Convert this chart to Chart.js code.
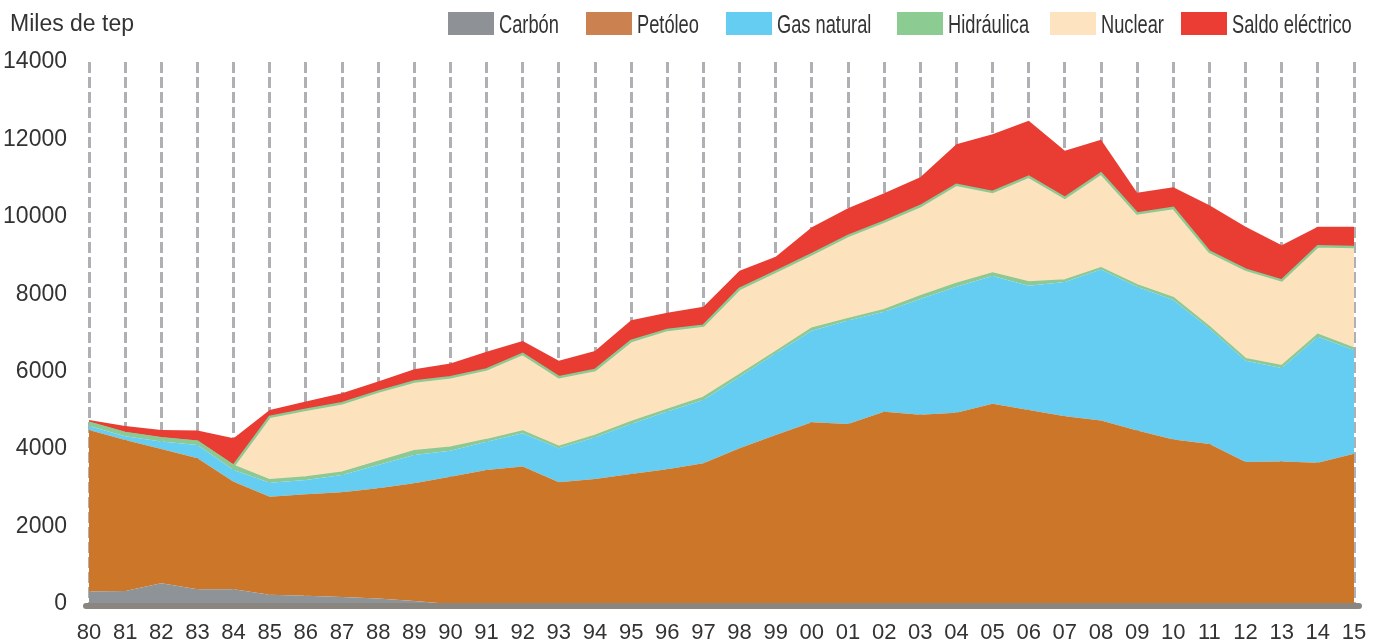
<!DOCTYPE html>
<html>
<head>
<meta charset="utf-8">
<script src="https://cdn.jsdelivr.net/npm/chart.js@4/dist/chart.umd.min.js"></script>
<style>
  body { margin: 0; background: #fff; }
  #wrap { position: relative; width: 1377px; height: 643px; }
  #unit { position: absolute; left: 10px; top: 12px; font: 23px/1 "Liberation Sans", Arial, sans-serif; color: #333; }
  .lg-box { position: absolute; top: 12px; width: 46px; height: 23px; }
  .lg-text { position: absolute; top: 12px; font: 25px/1 "Liberation Sans", Arial, sans-serif; color: #333;
             transform: scaleX(0.73); transform-origin: 0 0; white-space: nowrap; }
</style>
</head>
<body>
<div id="wrap">
  <div id="unit">Miles de tep</div>
  <div id="legend"></div>
  <canvas id="energyChart" width="1377" height="643"></canvas>
</div>
<script>
const years = ['80','81','82','83','84','85','86','87','88','89','90','91','92','93','94','95','96','97','98','99',
               '00','01','02','03','04','05','06','07','08','09','10','11','12','13','14','15'];

const carbon = [320, 335, 535, 380, 380, 240, 215, 180, 145, 80, 0, 0, 0, 0, 0, 0, 0, 0,
                0, 0, 0, 0, 0, 0, 0, 0, 0, 0, 0, 0, 0, 0, 0, 0, 0, 0];
const oil = [4175, 3900, 3470, 3385, 2780, 2530, 2620, 2705, 2845, 3040, 3290, 3460, 3550, 3145, 3230, 3360, 3480, 3635,
             4020, 4365, 4695, 4650, 4965, 4890, 4940, 5170, 5010, 4850, 4740, 4480, 4250, 4130, 3670, 3680, 3650, 3880];
const gas = [100, 100, 190, 345, 300, 360, 370, 445, 600, 730, 670, 730, 860, 880, 1075, 1290, 1490, 1635,
             1850, 2110, 2365, 2670, 2585, 2990, 3255, 3305, 3210, 3465, 3900, 3715, 3605, 2985, 2610, 2415, 3255, 2680];
const hydro = [85, 85, 85, 85, 110, 70, 70, 70, 85, 100, 85, 50, 50, 40, 40, 50, 50, 60,
               50, 40, 60, 40, 45, 70, 80, 70, 90, 50, 40, 40, 50, 40, 50, 50, 50, 40];
const nuclear = [0, 0, 0, 0, 0, 1635, 1740, 1785, 1810, 1795, 1810, 1820, 2000, 1795, 1700, 2095, 2060, 1860,
                 2220, 2070, 1920, 2150, 2280, 2330, 2555, 2100, 2730, 2125, 2440, 1855, 2325, 1945, 2305, 2215, 2285, 2620];
const saldo = [70, 180, 215, 285, 710, 175, 215, 260, 260, 320, 355, 455, 335, 420, 490, 535, 440, 490,
               470, 385, 690, 715, 735, 740, 1045, 1490, 1440, 1220, 870, 535, 535, 1200, 1110, 905, 505, 525];

const yTicks = [0, 2000, 4000, 6000, 8000, 10000, 12000, 14000];

// area colours / legend swatch colours
const areaColors = ['#8e9397', '#cb7628', '#66cdf2', '#8dc993', '#fde3bd', '#e93c33'];
const legendColors = ['#8e9296', '#cc8250', '#66cdf2', '#8ccb92', '#fde3bf', '#eb3d34'];
const legendLeft = [448, 586, 726, 897, 1050, 1181];
const green = '#8dc993';

function area(label, data, i, extra) {
    return Object.assign({
        label: label,
        data: data,
        backgroundColor: areaColors[i],
        borderColor: areaColors[i],
        borderWidth: 0,
        pointRadius: 0,
        tension: 0,
        fill: i === 0 ? 'origin' : '-1'
    }, extra || {});
}

// thick rounded baseline under the plot
const baseline = {
    id: 'baseline',
    afterDraw(chart) {
        const { ctx, chartArea } = chart;
        ctx.save();
        ctx.strokeStyle = '#8a857f';
        ctx.lineWidth = 6;
        ctx.lineCap = 'round';
        ctx.beginPath();
        ctx.moveTo(chartArea.left - 3, chartArea.bottom + 2);
        ctx.lineTo(chartArea.right + 5, chartArea.bottom + 2);
        ctx.stroke();
        ctx.restore();
    }
};

const chart = new Chart(document.getElementById('energyChart'), {
    type: 'line',
    data: {
        labels: years,
        datasets: [
            area('Carbón', carbon, 0),
            area('Petóleo', oil, 1),
            area('Gas natural', gas, 2),
            area('Hidráulica', hydro, 3, { borderColor: green, borderWidth: 2 }),
            area('Nuclear', nuclear, 4, { borderColor: green, borderWidth: 2.5 }),
            area('Saldo eléctrico', saldo, 5)
        ]
    },
    options: {
        responsive: false,
        animation: false,
        layout: { padding: { left: 0, right: 23, top: 62, bottom: 0 } },
        plugins: {
            tooltip: { enabled: false },
            legend: { display: false }
        },
        scales: {
            x: {
                type: 'category',
                offset: false,
                z: 1,
                afterFit: (scale) => {
                    scale.height = 39;
                    scale.paddingLeft = 0;
                    scale.paddingRight = 0;
                },
                grid: {
                    display: true,
                    drawTicks: false,
                    color: 'rgba(95,95,105,0.5)',
                    lineWidth: 3
                },
                border: { display: false, dash: [11, 4] },
                ticks: {
                    autoSkip: false,
                    maxRotation: 0,
                    padding: 16,
                    color: '#333',
                    font: { family: "'Liberation Sans', Arial, sans-serif", size: 22 }
                }
            },
            y: {
                stacked: true,
                min: 0,
                max: 14000,
                afterFit: (scale) => { scale.width = 89; },
                afterBuildTicks: (scale) => { scale.ticks = yTicks.map(v => ({ value: v })); },
                grid: { display: false },
                border: { display: false },
                ticks: {
                    padding: 14,
                    color: '#333',
                    callback: (v) => String(v),
                    font: { family: "'Liberation Sans', Arial, sans-serif", size: 23 }
                }
            }
        }
    },
    plugins: [baseline]
});

// legend built from the chart's datasets
const legend = document.getElementById('legend');
chart.data.datasets.forEach((ds, i) => {
    const box = document.createElement('div');
    box.className = 'lg-box';
    box.style.left = legendLeft[i] + 'px';
    box.style.background = legendColors[i];
    const txt = document.createElement('div');
    txt.className = 'lg-text';
    txt.style.left = (legendLeft[i] + 51) + 'px';
    txt.textContent = ds.label;
    legend.appendChild(box);
    legend.appendChild(txt);
});
</script>
</body>
</html>
